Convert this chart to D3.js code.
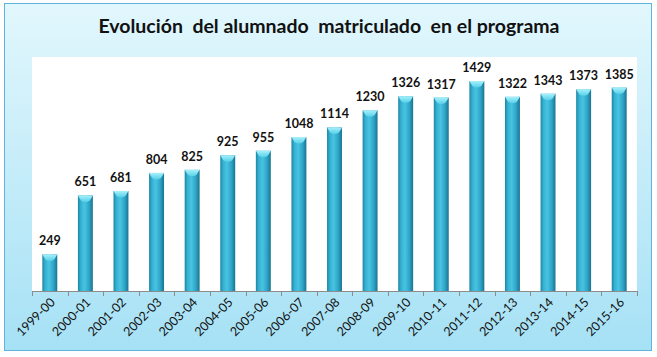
<!DOCTYPE html>
<html><head><meta charset="utf-8">
<script src="https://cdn.jsdelivr.net/npm/d3@7"></script>
<style>html,body{margin:0;padding:0;background:#fff}</style>
</head><body>
<svg id="c" width="657" height="357"></svg>
<script>
const categories = ["1999-00","2000-01","2001-02","2002-03","2003-04","2004-05","2005-06","2006-07","2007-08","2008-09","2009-10","2010-11","2011-12","2012-13","2013-14","2014-15","2015-16"];
const values = [249,651,681,804,825,925,955,1048,1114,1230,1326,1317,1429,1322,1343,1373,1385];
const title = "Evolución  del alumnado  matriculado  en el programa";

const svg = d3.select("#c");
const defs = svg.append("defs");
const bg = defs.append("linearGradient").attr("id","bg").attr("x1",0).attr("y1",0).attr("x2",0).attr("y2",1);
bg.append("stop").attr("offset","0%").attr("stop-color","#e2f7fd");
bg.append("stop").attr("offset","100%").attr("stop-color","#a6e1f5");
const bar = defs.append("linearGradient").attr("id","bar").attr("x1",0).attr("y1",0).attr("x2",1).attr("y2",0);
[["0%","#1f86a3"],["20%","#35b2d3"],["45%","#49c3e2"],["75%","#2ea4c6"],["100%","#1a7391"]].forEach(s=>bar.append("stop").attr("offset",s[0]).attr("stop-color",s[1]));
const cap = defs.append("linearGradient").attr("id","cap").attr("x1",0).attr("y1",0).attr("x2",0).attr("y2",1);
cap.append("stop").attr("offset","0%").attr("stop-color","#a8f0fb");
cap.append("stop").attr("offset","100%").attr("stop-color","#55d0e8");

svg.append("rect").attr("x",4.5).attr("y",3.5).attr("width",647).attr("height",347).attr("fill","url(#bg)").attr("stroke","#5fb3dc").attr("stroke-width",1);

const pl = {x0:32, x1:637, y0:57, y1:291};
svg.append("rect").attr("x",pl.x0).attr("y",pl.y0).attr("width",pl.x1-pl.x0).attr("height",pl.y1-pl.y0).attr("fill","#fff");

svg.append("text").attr("x",329).attr("y",33).attr("text-anchor","middle")
  .attr("font-family","Lato, 'Open Sans', sans-serif").attr("font-weight","bold").attr("font-size",19.5)
  .attr("fill","#111").style("white-space","pre").text(title);

const x = d3.scaleBand().domain(categories).range([32,637]).paddingInner(0.58).paddingOuter(0.29);
const y = d3.scaleLinear().domain([0,1600]).range([291,56]);

const g = svg.append("g");
const bw = x.bandwidth();
g.selectAll("rect.b").data(values).join("rect").attr("class","b")
  .attr("x",(d,i)=>x(categories[i])).attr("y",d=>y(d)).attr("width",bw).attr("height",d=>291-y(d))
  .attr("fill","url(#bar)");
g.selectAll("path.cap").data(values).join("path").attr("class","cap")
  .attr("d",(d,i)=>{const x0=x(categories[i]), yy=y(d); return `M${x0},${yy} L${x0+bw},${yy} L${x0+bw-3},${yy+5} Q${x0+bw/2},${yy+8} ${x0+3},${yy+5} Z`;})
  .attr("fill","url(#cap)");
g.selectAll("text.v").data(values).join("text").attr("class","v")
  .attr("x",(d,i)=>x(categories[i])+bw/2).attr("y",d=>y(d)-9).attr("text-anchor","middle")
  .attr("font-family","Lato, 'Open Sans', sans-serif").attr("font-weight","bold").attr("font-size",12.5).attr("fill","#111")
  .text(d=>d);

// axis
const ax = svg.append("g");
ax.append("line").attr("x1",32).attr("x2",637).attr("y1",291.5).attr("y2",291.5).attr("stroke","#8c8c8c");
d3.range(categories.length+1).forEach(i=>{
  const xx = Math.round(32 + i*(605/categories.length))+0.5;
  ax.append("line").attr("x1",xx).attr("x2",xx).attr("y1",291).attr("y2",296).attr("stroke","#8c8c8c");
});
ax.selectAll("text").data(categories).join("text")
  .attr("transform",d=>`translate(${x(d)+bw/2+6},${303}) rotate(-45)`)
  .attr("text-anchor","end").attr("font-family","Lato, 'Open Sans', sans-serif").attr("font-size",12.5).attr("fill","#111")
  .text(d=>d);
</script>
</body></html>
